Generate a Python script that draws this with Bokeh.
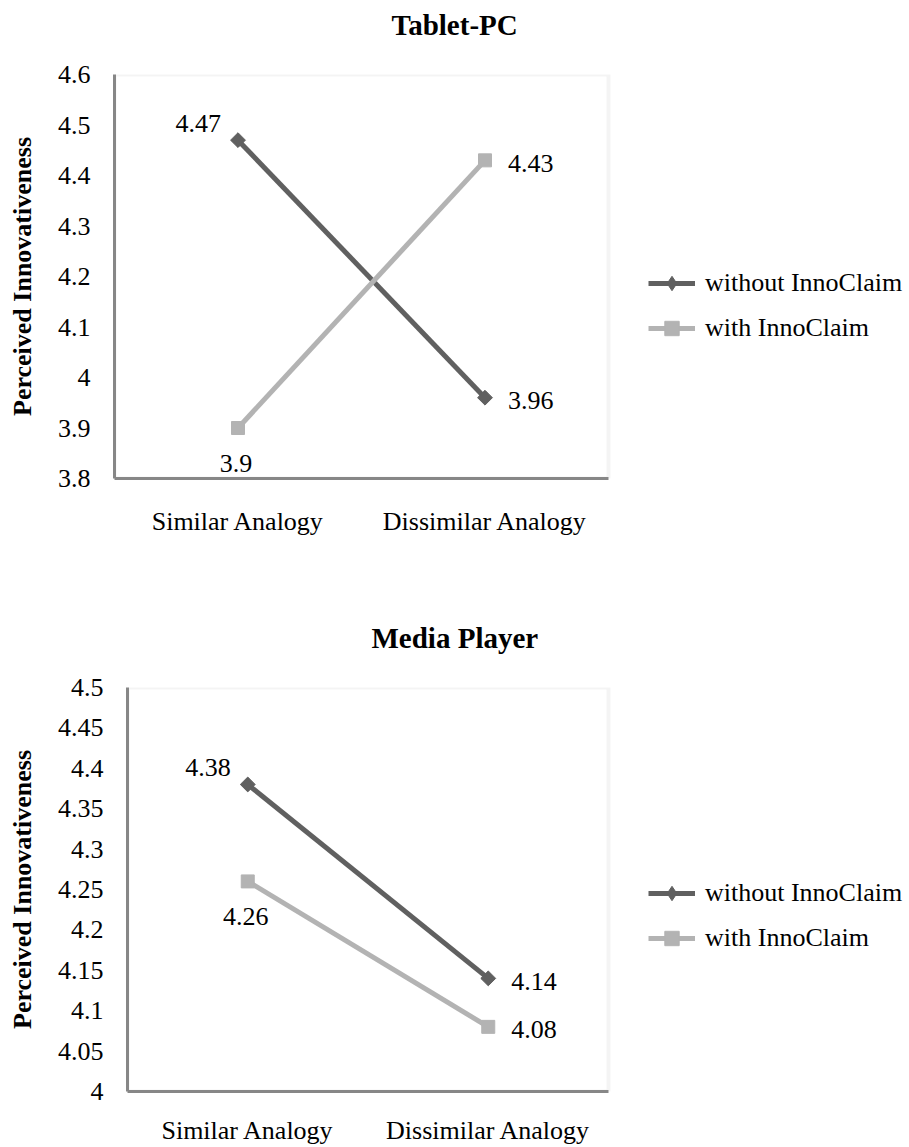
import math
from bokeh.plotting import figure
from bokeh.models import (Range1d, FixedTicker, Legend, LegendItem,
                          ColumnDataSource, Title, BoxAnnotation)
from bokeh.layouts import column, row
from bokeh.embed import file_html
from bokeh.resources import INLINE
from bokeh.core.properties import value

# ---------------- data ----------------
categories = ["Similar Analogy", "Dissimilar Analogy"]
series_names = ["without InnoClaim", "with InnoClaim"]

tablet_title = "Tablet-PC"
tablet_without = [4.47, 3.96]
tablet_with = [3.90, 4.43]
tablet_ticks = [3.8, 3.9, 4.0, 4.1, 4.2, 4.3, 4.4, 4.5, 4.6]
tablet_tick_labels = ["3.8", "3.9", "4", "4.1", "4.2", "4.3", "4.4", "4.5", "4.6"]

media_title = "Media Player"
media_without = [4.38, 4.14]
media_with = [4.26, 4.08]
media_ticks = [4.0, 4.05, 4.1, 4.15, 4.2, 4.25, 4.3, 4.35, 4.4, 4.45, 4.5]
media_tick_labels = ["4", "4.05", "4.1", "4.15", "4.2", "4.25", "4.3", "4.35",
                     "4.4", "4.45", "4.5"]

y_axis_title = "Perceived Innovativeness"

# ---------------- styles ----------------
FONT = "Liberation Serif"
DARK = "#606060"
LIGHT = "#b3b3b3"
SERIES_COLORS = [DARK, LIGHT]
AXIS_COLOR = "#878787"
OUTLINE_COLOR = "#d9d9d9"
WIDTH = 909
PLOT_RIGHT = 608          # right edge of the chart's plot area (px)
LEGEND_LEFT = 648         # left edge of the legend (px)

# per series / per category label placement (align, dx, dy)
LABEL_PLACEMENT = [
    [("right", -17, -17), ("left", 23, 3)],
    [("center", -2, 35), ("left", 23, 3)],
]


def make_chart(title, s_without, s_with, ticks, tick_labels, height,
               left, top, bottom, title_offset, x_standoff, legend_dy):
    n = len(categories)
    xpos = [i + 0.5 for i in range(n)]
    # the drawing frame extends to the right edge so the legend is not clipped
    x_end = n * (WIDTH - left) / (PLOT_RIGHT - left)
    p = figure(x_range=Range1d(0, x_end),
               y_range=Range1d(ticks[0], ticks[-1]),
               width=WIDTH, height=height, output_backend="svg",
               toolbar_location=None, tools="",
               min_border_left=left, min_border_right=0,
               min_border_top=top, min_border_bottom=bottom)
    # spacer title (blank) keeps the real title away from the plot area
    p.add_layout(Title(text=" ", text_font=FONT, text_font_size="29px",
                       text_font_style="bold", standoff=0), "above")
    p.add_layout(Title(text=title, text_font=FONT, text_font_size="29px",
                       text_font_style="bold", text_color="#000000",
                       align="left", offset=title_offset, standoff=0), "above")
    p.background_fill_color = "white"
    p.border_fill_color = "white"
    p.outline_line_color = None
    p.grid.visible = False

    # plot-area border (light grey), axes drawn over it in darker grey
    p.add_layout(BoxAnnotation(left=0, right=n, bottom=ticks[0], top=ticks[-1],
                               fill_alpha=0, line_color=OUTLINE_COLOR,
                               line_width=4, level="underlay"))

    p.xaxis.ticker = FixedTicker(ticks=xpos)
    p.xaxis.major_label_overrides = {x: c for x, c in zip(xpos, categories)}
    p.xaxis.bounds = (0, n)
    p.yaxis.ticker = FixedTicker(ticks=ticks)
    p.yaxis.major_label_overrides = {t: l for t, l in zip(ticks, tick_labels)}
    for ax in (p.xaxis[0], p.yaxis[0]):
        ax.axis_line_color = AXIS_COLOR
        ax.axis_line_width = 3
        ax.major_tick_line_color = None
        ax.minor_tick_line_color = None
        ax.major_tick_out = 0
        ax.major_tick_in = 0
        ax.minor_tick_out = 0
        ax.minor_tick_in = 0
        ax.major_label_text_font = FONT
        ax.major_label_text_font_size = "26px"
        ax.major_label_text_color = "#000000"
    p.yaxis.major_label_standoff = 24
    p.xaxis.major_label_standoff = x_standoff
    p.yaxis.axis_label = y_axis_title
    p.yaxis.axis_label_text_font = FONT
    p.yaxis.axis_label_text_font_size = "26px"
    p.yaxis.axis_label_text_font_style = "bold"
    p.yaxis.axis_label_text_color = "#000000"
    p.yaxis.axis_label_standoff = 18

    items = []
    for si, (name, vals) in enumerate(zip(series_names, [s_without, s_with])):
        src = ColumnDataSource(dict(x=xpos, y=vals))
        color = SERIES_COLORS[si]
        ln = p.line("x", "y", source=src, line_color=color, line_width=5)
        if si == 0:
            p.scatter("x", "y", source=src, marker="square", size=10.5,
                      angle=math.pi / 4, fill_color=color, line_color=color)
            # diamond drawn inside the rotated square; used for the legend swatch
            mk = p.scatter("x", "y", source=src, marker="diamond", size=13,
                           fill_color=color, line_color=color)
        else:
            mk = p.scatter("x", "y", source=src, marker="square", size=13,
                           fill_color=color, line_color=color)
        items.append(LegendItem(label=name, renderers=[ln, mk]))
        for ci, v in enumerate(vals):
            align, dx, dy = LABEL_PLACEMENT[si][ci]
            lsrc = ColumnDataSource(dict(x=[xpos[ci]], y=[v], t=[f"{v:g}"]))
            p.text("x", "y", text="t", source=lsrc, x_offset=dx, y_offset=dy,
                   text_align=align, text_baseline="middle",
                   text_font=value(FONT), text_font_size="26px",
                   text_color="#000000")

    legend = Legend(items=items, location=(LEGEND_LEFT - left, legend_dy),
                    orientation="vertical", glyph_width=47, glyph_height=36,
                    label_height=30, spacing=9, padding=0, margin=0,
                    label_standoff=10, border_line_color=None,
                    background_fill_alpha=0,
                    label_text_font=FONT, label_text_font_size="26px",
                    label_text_color="#000000")
    p.add_layout(legend, "center")
    return p


p1 = make_chart(tablet_title, tablet_without, tablet_with, tablet_ticks,
                tablet_tick_labels, height=573, left=114, top=74, bottom=95,
                title_offset=277, x_standoff=28, legend_dy=132)
p2 = make_chart(media_title, media_without, media_with, media_ticks,
                media_tick_labels, height=574, left=127, top=114, bottom=54,
                title_offset=244, x_standoff=24, legend_dy=135)

layout = column(row(p1), row(p2), spacing=0)
open("out.html", "w").write(file_html(layout, INLINE))
